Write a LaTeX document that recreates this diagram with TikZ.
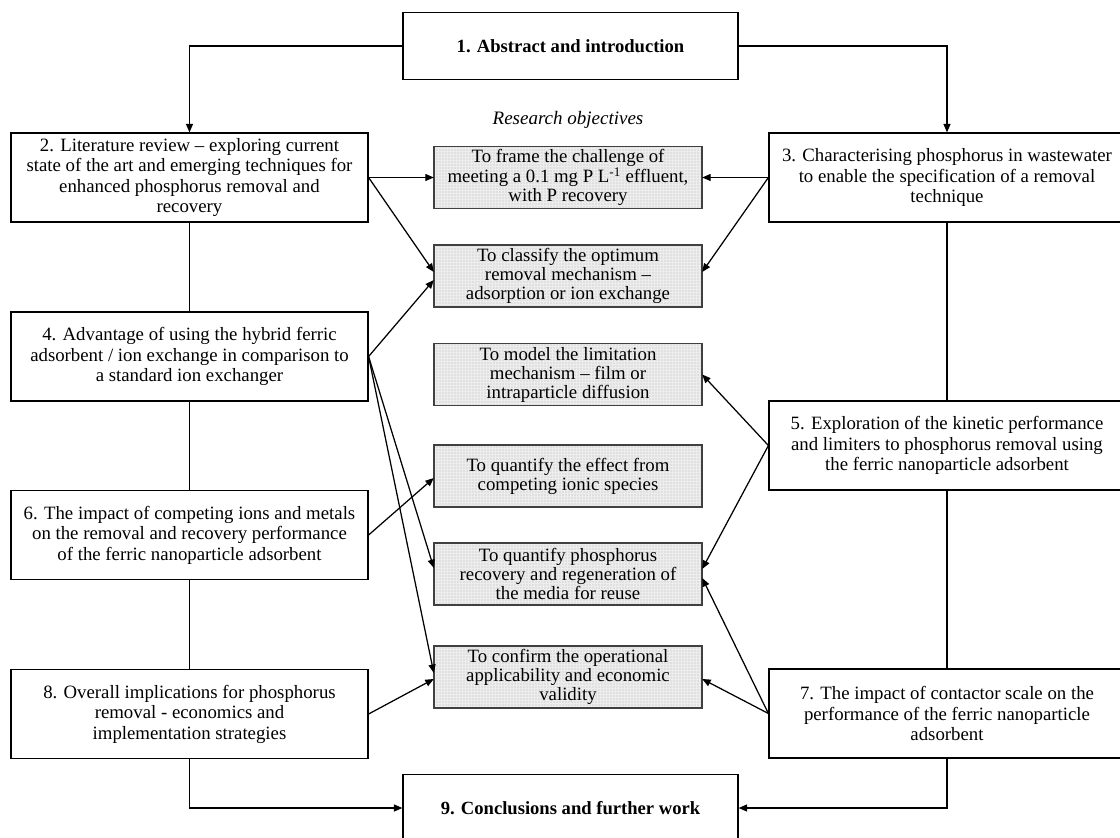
\documentclass[tikz,border=0pt]{standalone}
\usepackage{fontspec}
\setmainfont{Liberation Serif}
\usetikzlibrary{arrows.meta,patterns}
\begin{document}
\begin{tikzpicture}[x=1pt,y=-1pt,
  chap/.style={draw, line width=1.2pt, fill=white, align=center, inner sep=0pt,
    minimum width=357pt, minimum height=89pt, font=\fontsize{18.8}{20.5}\selectfont},
  obj/.style={fill=black!12,
    postaction={pattern=grid, pattern color=black!7},
    postaction={draw=black!75, line width=1.4pt},
    align=center, inner sep=0pt,
    minimum width=268pt, minimum height=62pt, font=\fontsize{18.8}{19}\selectfont},
  endbox/.style={draw, line width=1.2pt, fill=white, align=center, inner sep=0pt,
    minimum width=335pt, minimum height=67pt, font=\bfseries\fontsize{18.6}{20}\selectfont},
  arr/.style={-{Triangle[length=8.5pt,width=7pt]}, line width=1.25pt},
  ln/.style={line width=1.2pt}]
\clip (0,0) rectangle (1120,838);
\fill[white] (0,0) rectangle (1120,838);

% chapter boxes
\node[endbox] (n1) at (570.5,46) {1. Abstract and introduction};
\node[endbox] (n9) at (570.5,808) {9. Conclusions and further work};
\node[chap] (n2) at (189.5,177.5) {2. Literature review – exploring current\\state of the art and emerging techniques for\\enhanced phosphorus removal and\\recovery};
\node[chap] (n4) at (189.5,356.5) {4. Advantage of using the hybrid ferric\\adsorbent / ion exchange in comparison to\\a standard ion exchanger};
\node[chap] (n6) at (189.5,535) {6. The impact of competing ions and metals\\on the removal and recovery performance\\of the ferric nanoparticle adsorbent};
\node[chap] (n8) at (189.5,714) {8. Overall implications for phosphorus\\removal - economics and\\implementation strategies};
\node[chap, minimum width=356pt] (n3) at (947,177.5) {3. Characterising phosphorus in wastewater\\to enable the specification of a removal\\technique};
\node[chap, minimum width=356pt] (n5) at (947,445.5) {5. Exploration of the kinetic performance\\and limiters to phosphorus removal using\\the ferric nanoparticle adsorbent};
\node[chap, minimum width=356pt] (n7) at (947,713.5) {7. The impact of contactor scale on the\\performance of the ferric nanoparticle\\adsorbent};

% research objectives
\node[font=\itshape\fontsize{19}{20}\selectfont] (ro) at (568,120) {Research objectives};
\node[obj] (oA) at (568,177.5) {To frame the challenge of\\meeting a 0.1 mg P L\textsuperscript{-1} effluent,\\with P recovery};
\node[obj] (oB) at (568,276) {To classify the optimum\\removal mechanism –\\adsorption or ion exchange};
\node[obj] (oC) at (568,374.5) {To model the limitation\\mechanism – film or\\intraparticle diffusion};
\node[obj] (oD) at (568,476) {To quantify the effect from\\competing ionic species};
\node[obj] (oE) at (568,574) {To quantify phosphorus\\recovery and regeneration of\\the media for reuse};
\node[obj] (oF) at (568,677) {To confirm the operational\\applicability and economic\\validity};

% spine connectors
\draw[arr] (n1.west) -| (n2.north);
\draw[arr] (n1.east) -| (n3.north);
\draw[ln] (n2.south) -- (n4.north);
\draw[ln] (n4.south) -- (n6.north);
\draw[ln] (n6.south) -- (n8.north);
\draw[ln] (n3.south) -- (n5.north);
\draw[ln] (n5.south) -- (n7.north);
\draw[arr] (n8.south) |- (n9.west);
\draw[arr] (n7.south) |- (n9.east);

% objective arrows
\draw[arr] (n2.east) -- (oA.west);
\draw[arr] (n2.east) -- ([yshift=4pt]oB.west);
\draw[arr] (n3.west) -- (oA.east);
\draw[arr] (n3.west) -- ([yshift=4pt]oB.east);
\draw[arr] (n4.east) -- ([yshift=-4pt]oB.west);
\draw[arr] (n4.east) -- ([yshift=6pt]oE.west);
\draw[arr] (n4.east) -- ([yshift=4pt]oF.west);
\draw[arr] (n5.west) -- (oC.east);
\draw[arr] (n5.west) -- ([yshift=5pt]oE.east);
\draw[arr] (n6.east) -- ([yshift=-2pt]oD.west);
\draw[arr] (n7.west) -- ([yshift=-4pt]oE.east);
\draw[arr] (n7.west) -- ([yshift=-2pt]oF.east);
\draw[arr] (n8.east) -- ([yshift=-2pt]oF.west);
\end{tikzpicture}
\end{document}
